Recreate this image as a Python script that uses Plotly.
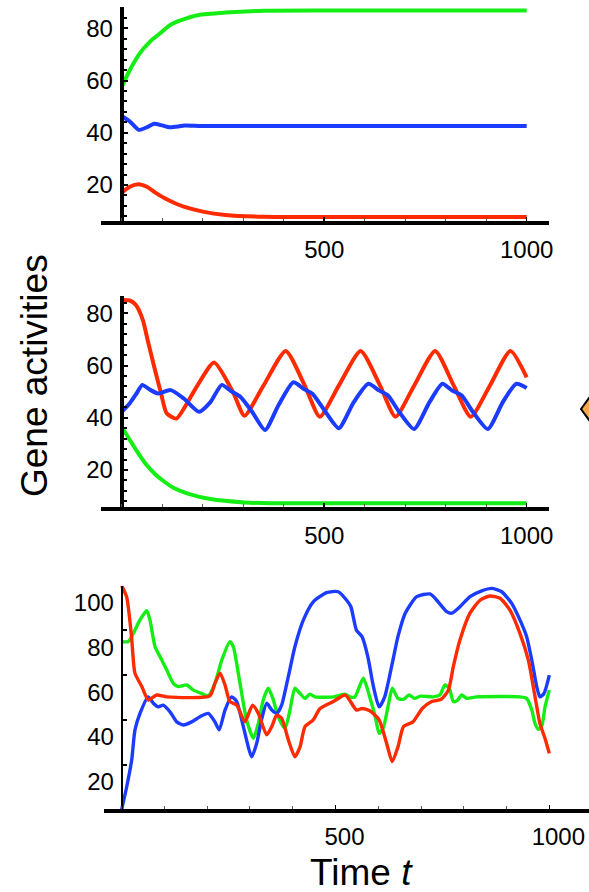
import plotly.graph_objects as go

# ---------------- data ----------------
# Panel 1 (top): steady state
p1_green_t = [0, 20, 45, 70, 95, 120, 145, 190, 255, 350, 500, 1000]
p1_green = [57.5, 64, 70.5, 74.9, 78.1, 81.3, 83, 85.1, 86, 86.7, 86.8, 86.8]
p1_blue_t = [0, 20, 42, 62, 80, 100, 118, 140, 155, 200, 1000]
p1_blue = [46.4, 44.3, 41.1, 42.1, 43.4, 42.8, 42.1, 42.4, 42.8, 42.6, 42.6]
p1_red_t = [0, 20, 41, 62, 86, 111, 136, 153, 200, 256, 350, 500, 1000]
p1_red = [17, 19.3, 20.3, 19.3, 16.8, 14.5, 12.7, 11.7, 9.8, 8.5, 7.8, 7.7, 7.7]

# Panel 2 (middle): oscillation
p2_red_t = [0, 20, 35, 52, 64, 80, 97, 111, 135, 182, 228, 275, 303, 350, 405, 452,
            489, 536, 590, 638, 676, 722, 774, 820, 862, 909, 960, 1000]
p2_red = [85.1, 84.9, 83.2, 77.5, 69.8, 59.6, 49.4, 41.7, 39.7, 51.1, 61.2, 49.8, 40.8,
          52.3, 65.6, 52.3, 40.4, 52.3, 65.6, 52.3, 40.4, 52.3, 65.6, 52.3, 40.4, 52.3,
          65.6, 55.5]
p2_blue_t = [0, 20, 37, 51, 70, 90, 121, 154, 191, 219, 247, 270, 294, 322, 354, 387,
             424, 450, 471, 503, 536, 573, 609, 635, 657, 685, 722, 760, 792, 815, 839,
             867, 904, 941, 974, 1000]
p2_blue = [42.3, 45.6, 49.4, 52.6, 50.7, 49.3, 50.6, 47.3, 42.3, 46, 52.6, 50.2, 47.9,
           42.3, 35.3, 44.8, 53.6, 51, 49.2, 42.3, 36, 46, 53, 50.5, 48.6, 42.3, 35.7,
           46, 53, 50.5, 48.6, 42.3, 35.7, 46, 53, 51.4]
p2_green_t = [0, 20, 41, 62, 82, 103, 130, 163, 219, 303, 368, 1000]
p2_green = [36.6, 31.5, 26.4, 21.8, 18.5, 15.8, 13, 11, 8.9, 7.6, 7.3, 7.3]

# Panel 3 (bottom): chaotic
p3_red_t = [0, 11.7, 23, 31, 47, 62, 82, 105, 206, 218, 230, 241.6, 253, 269, 288, 306,
            319.5, 339, 351, 362.5, 374, 390, 405, 417, 428.7, 448, 463.8, 495, 523, 549,
            562, 580, 602, 619.5, 632.7, 646, 659, 681, 703, 725, 747, 764, 775.5, 791,
            814.5, 838, 861, 884.7, 908, 931.5, 951, 966.6, 978, 990, 1000]
p3_red = [100, 94.9, 77.2, 60.9, 54.9, 48.9, 51.1, 50.3, 50.7, 56.3, 60.9, 55.6, 48.2,
          46.6, 39.1, 46.6, 42.9, 33.3, 37, 42.1, 40.7, 30.9, 23.5, 27.9, 37, 40, 45.1,
          48.2, 51.1, 44.4, 45.1, 44.1, 40, 29.5, 21.3, 27.9, 37, 39.1, 45.1, 48.2, 49.2,
          53.3, 63.8, 75.7, 87.7, 93.5, 95.4, 94.4, 89.1, 78.6, 66.7, 50.3, 38.4, 31.7, 25]
p3_blue_t = [0, 11.7, 23.4, 31, 42.8, 62, 74, 85.6, 97, 113, 128.6, 144, 163.7, 183,
             202.5, 218, 228, 241.6, 257, 269, 284.4, 304, 315.7, 327, 339, 351, 362.5,
             374, 389.6, 405, 424.7, 448, 479, 506.6, 526, 536, 549, 562, 575.5, 588.7,
             602, 615, 632.7, 646, 663, 690, 721, 740, 760, 771.7, 791, 814.5, 842, 865,
             888.7, 912, 931.5, 947, 959, 970.5, 978, 987.6, 1000]
p3_blue = [0, 10.1, 22.1, 35.5, 42.9, 50.3, 47.4, 45.8, 46.6, 43.6, 39.1, 37.7, 39.1,
           41.4, 42.9, 39.1, 35.5, 44.4, 50.3, 48.2, 37, 23.5, 29.5, 40, 47.4, 44.4, 42.9,
           46.6, 59.3, 72.7, 84.6, 92.8, 96.9, 97.3, 93.5, 90.6, 80.1, 77.2, 68.3, 54.9,
           45.8, 50.3, 65.3, 77.2, 87.7, 95.1, 96.3, 92.8, 88.4, 87.7, 90.6, 95.1, 97.7,
           98.8, 97.3, 92.1, 84.6, 77.2, 66.7, 54.9, 50.3, 51.8, 60]
p3_green_t = [0, 15.6, 27, 42.8, 58.5, 66, 78, 89.6, 105, 120.7, 132, 152, 167.5, 187,
              202.5, 218, 234, 253, 261, 276.7, 292, 308, 319.5, 331, 343, 354.6, 366,
              382, 393.6, 405, 417, 428.7, 440, 452, 495, 522, 534, 545, 565, 580, 593,
              602, 611, 624, 632.7, 646, 659, 672, 685, 698.6, 728.7, 744, 756, 766,
              775.5, 785, 795, 807, 830, 931.5, 947, 959, 966.6, 974, 982, 990, 1000]
p3_green = [75, 75, 78.6, 84.7, 88.8, 84.7, 72.7, 68.3, 62.4, 56.3, 54.9, 55.6, 53.3,
            51.8, 50.7, 56.3, 66.7, 75, 72.7, 56.3, 40, 31.7, 38.4, 48.9, 54.2, 48.9,
            41.4, 36.2, 44.4, 54.2, 51.8, 49.6, 51.5, 50.3, 50.3, 51.5, 50.3, 50.2, 58.6,
            50.2, 41.4, 34, 36, 47, 54.2, 49.6, 49.2, 51.1, 49.6, 50.6, 50.3, 51.1, 55.6,
            54.2, 48.2, 48.7, 51.1, 49.6, 50.3, 50.3, 49.6, 44.4, 38.4, 35.8, 37, 45.8, 53.3]

x_tick_vals = [500, 1000]
x_tick_text = ["500", "1000"]
y_tick_vals_12 = [20, 40, 60, 80]
y_tick_vals_3 = [20, 40, 60, 80, 100]

# ---------------- styling ----------------
GREEN = "#14ee14"
BLUE = "#1b3cff"
RED = "#ff2b00"
FONT = "Liberation Sans, Arial, sans-serif"
W, H = 589, 892


def px(X):
    return X / W


def py(Y):
    return 1 - Y / H


fig = go.Figure()


def add(tv, vv, color, ax, width):
    fig.add_trace(go.Scatter(
        x=tv, y=vv, mode="lines",
        line=dict(color=color, width=width, shape="spline", smoothing=0.6),
        xaxis="x" + ax, yaxis="y" + ax, showlegend=False, hoverinfo="skip"))


add(p1_green_t, p1_green, GREEN, "", 4)
add(p1_blue_t, p1_blue, BLUE, "", 4)
add(p1_red_t, p1_red, RED, "", 4)
add(p2_green_t, p2_green, GREEN, "2", 4)
add(p2_red_t, p2_red, RED, "2", 4)
add(p2_blue_t, p2_blue, BLUE, "2", 4)
add(p3_green_t, p3_green, GREEN, "3", 3.4)
add(p3_blue_t, p3_blue, BLUE, "3", 3.4)
add(p3_red_t, p3_red, RED, "3", 3.4)

yaxis_pos = px(121.7)


def xax(domain, rng, anchor, lw, shift=0, standoff=4):
    return dict(domain=domain, range=rng, anchor=anchor, showline=True, linecolor="black",
                linewidth=lw, showgrid=False, zeroline=False, tickvals=x_tick_vals,
                ticktext=x_tick_text, ticks="inside", ticklen=4, tickwidth=1.5,
                tickcolor="black", ticklabelstandoff=standoff, ticklabelshift=shift,
                automargin=False, ticklabeloverflow="allow",
                minor=dict(dtick=100, tick0=0, ticks="inside", ticklen=3, tickwidth=1,
                           tickcolor="#555", showgrid=False),
                tickfont=dict(family=FONT, size=24, color="black"), fixedrange=True)


def yax(domain, rng, vals, lw, minor_dtick=None, shift=0):
    d = dict(domain=domain, range=rng, anchor="free", position=yaxis_pos, showline=True,
             linecolor="black", linewidth=lw, showgrid=False, zeroline=False,
             tickvals=vals, ticks="inside", ticklen=4, tickwidth=2, tickcolor="black",
             ticklabelshift=shift, ticklabelstandoff=2, automargin=False,
             tickfont=dict(family=FONT, size=24, color="black"), fixedrange=True)
    if minor_dtick:
        d["minor"] = dict(dtick=minor_dtick, tick0=0, ticks="inside", ticklen=3,
                          tickwidth=2, tickcolor="black", showgrid=False)
    return d


fig.update_layout(
    template="none",
    width=W, height=H, margin=dict(l=0, r=0, t=0, b=0, pad=0, autoexpand=False),
    paper_bgcolor="white", plot_bgcolor="white",
    xaxis=xax([px(100.7), px(549.3)], [-51.9, 1055.8], "y", 4),
    yaxis=yax([py(221.0), py(6.6)], [6.2, 88.3], y_tick_vals_12, 4, 4),
    xaxis2=xax([px(100.7), px(549.3)], [-51.9, 1055.8], "y2", 4),
    yaxis2=yax([py(507.4), py(295.8)], [5.7, 86.7], y_tick_vals_12, 4, 4),
    xaxis3=xax([px(104), 1.0], [-41.4, 1092.8], "y3", 3.5, shift=9, standoff=3),
    yaxis3=yax([py(809.3), py(585.7)], [0, 100], y_tick_vals_3, 2.5, None, shift=17),
    annotations=[
        dict(text="Gene activities", x=px(34), y=py(376), xref="paper", yref="paper",
             textangle=-90, showarrow=False, xanchor="center", yanchor="middle",
             font=dict(family=FONT, size=37, color="black")),
        dict(text="Time <i>t</i>", x=px(361), y=py(872), xref="paper", yref="paper",
             showarrow=False, xanchor="center", yanchor="middle",
             font=dict(family=FONT, size=37, color="black")),
    ],
    shapes=[
        dict(type="path", xref="paper", yref="paper",
             path=f"M {px(581)},{py(409)} L {px(600)},{py(383)} L {px(619)},{py(409)} "
                  f"L {px(600)},{py(435)} Z",
             fillcolor="#f6a84b", line=dict(color="black", width=2)),
    ],
)

# remove the browser's default 8px page margin so the 589x892 figure fills the window
fig.write_html("out.html",
               config={"displayModeBar": False, "staticPlot": True},
               post_script="document.body.style.margin='0px';"
                           "document.body.style.overflow='hidden';")
